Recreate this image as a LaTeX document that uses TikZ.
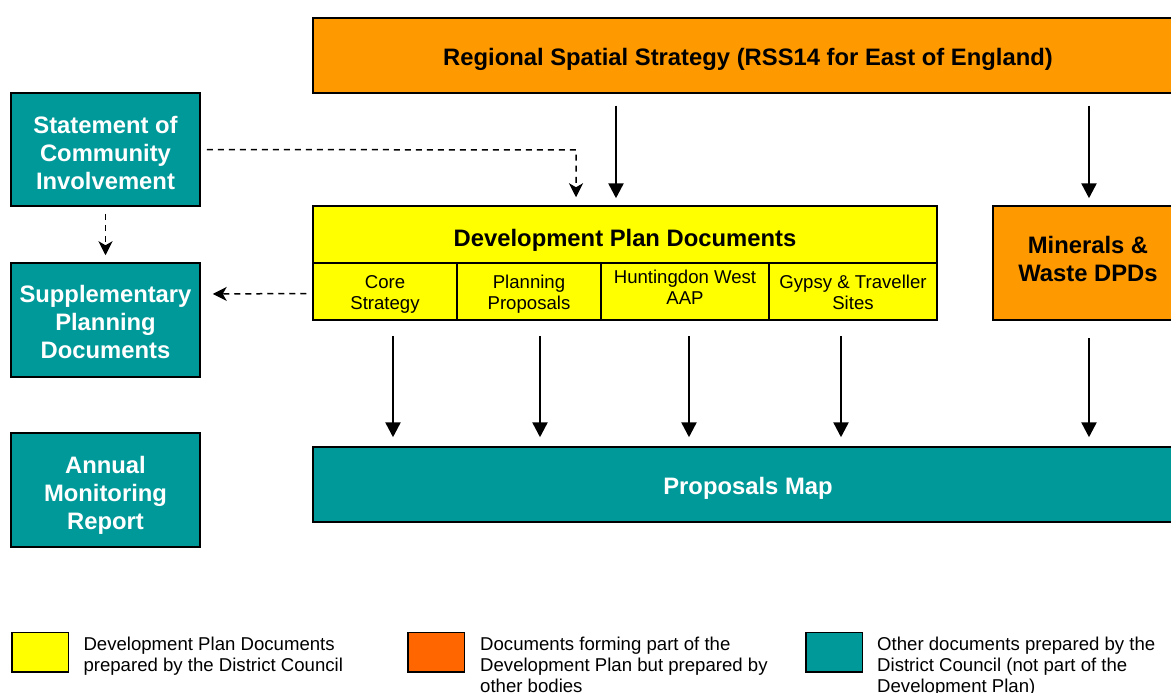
\documentclass[tikz,border=0pt]{standalone}
\usepackage{fontspec}
\setmainfont{Liberation Sans}
\usetikzlibrary{arrows.meta,calc}
\definecolor{cyel}{HTML}{FFFF00}
\definecolor{corg}{HTML}{FF9900}
\definecolor{corl}{HTML}{FF6600}
\definecolor{cteal}{HTML}{009999}
\tikzset{
  box/.style={draw=black, line width=1.5pt, rectangle, inner sep=0pt},
  bigtxt/.style={font=\fontsize{23.8}{27.8}\selectfont\bfseries, align=center, inner sep=0pt, anchor=base},
  smalltxt/.style={font=\fontsize{18.6}{20.7}\selectfont, align=center, inner sep=0pt, anchor=base},
  wtxt/.style={bigtxt, text=white},
  arr/.style={line width=2.5pt, -{Triangle[width=15pt,length=15pt]}},
  darr/.style={line width=1.5pt, dash pattern=on 6pt off 5pt, -{Stealth[width=14pt,length=14pt,inset=4pt]}},
  legsq/.style={draw=black, line width=1.5pt, minimum width=56.5pt, minimum height=39.5pt, inner sep=0pt},
  legtxt/.style={font=\fontsize{18.6}{21}\selectfont, align=left, anchor=base west, inner sep=0pt}
}
\begin{document}
\begin{tikzpicture}[x=1pt,y=-1pt]
\useasboundingbox (0,0) rectangle (1171,693);
\clip (0,0) rectangle (1171,693);
\fill[white] (0,0) rectangle (1171,693);

% top
\node[box, fill=corg, minimum width=870pt, minimum height=75pt] (rss) at (748,55.5) {};
\node[bigtxt] (rsst) at (748,65.7) {Regional Spatial Strategy (RSS14 for East of England)};

% left column
\node[box, fill=cteal, minimum width=189pt, minimum height=113pt] (sci) at (105.5,149.5) {};
\node[wtxt] (scit) at (105.5,189) {Statement of\\Community\\Involvement};
\node[box, fill=cteal, minimum width=189pt, minimum height=114pt] (spd) at (105.5,320) {};
\node[wtxt] (spdt) at (105.5,358.3) {Supplementary\\Planning\\Documents};
\node[box, fill=cteal, minimum width=189pt, minimum height=114pt] (amr) at (105.5,490) {};
\node[wtxt] (amrt) at (105.5,529.3) {Annual\\Monitoring\\Report};

% DPD
\node[box, fill=cyel, minimum width=624pt, minimum height=57pt] (dpd) at (625,234.5) {};
\node[bigtxt] (dpdt) at (625,246) {Development Plan Documents};
\node[box, fill=cyel, minimum width=144pt, minimum height=57pt] (c1) at (385,291.5) {};
\node[smalltxt] (c1t) at (385,309) {Core\\Strategy};
\node[box, fill=cyel, minimum width=144pt, minimum height=57pt] (c2) at (529,291.5) {};
\node[smalltxt] (c2t) at (529,309) {Planning\\Proposals};
\node[box, fill=cyel, minimum width=168pt, minimum height=57pt] (c3) at (685,291.5) {};
\node[smalltxt] (c3t) at (685,304.3) {Huntingdon West\\AAP};
\node[box, fill=cyel, minimum width=168pt, minimum height=57pt] (c4) at (853,291.5) {};
\node[smalltxt] (c4t) at (853,309) {Gypsy \& Traveller\\Sites};

% minerals
\node[box, fill=corg, minimum width=190pt, minimum height=114pt] (mw) at (1088,263) {};
\node[bigtxt] (mwt) at (1088,281.7) {Minerals \&\\Waste DPDs};

% proposals map
\node[box, fill=cteal, minimum width=870pt, minimum height=75pt] (pm) at (748,484.5) {};
\node[wtxt] (pmt) at (748,494.3) {Proposals Map};

% solid arrows
\draw[arr] (rss.south -| 616,0) ++(0,12) -- ($(dpd.north -| 616,0)+(0,-7)$);
\draw[arr] (rss.south -| 1089,0) ++(0,12) -- ($(mw.north -| 1089,0)+(0,-7)$);
\foreach \n/\x in {c1/393,c2/540,c3/689,c4/841}{
  \draw[arr] (\n.south -| \x,0) ++(0,15) -- ($(pm.north -| \x,0)+(0,-9)$);
}
\draw[arr] (mw.south -| 1089,0) ++(0,17) -- ($(pm.north -| 1089,0)+(0,-9)$);

% dashed arrows
\coordinate (bend) at (576,150);
\draw[darr] (sci.east) ++(6,0) -- (bend) -- ($(dpd.north -| bend)+(0,-8)$);
\draw[darr] (sci.south) ++(0,7) -- ($(spd.north)+(0,-7)$);
\draw[darr] (c1.west) ++(-6,2) -- ($(spd.east)+(12,-26)$);

% legend
\node[legsq, fill=cyel] (l1) at (40,652) {};
\node[legsq, fill=corl] (l2) at (436.2,652) {};
\node[legsq, fill=cteal] (l3) at (834,652) {};
\node[legtxt] (t1) at (83.3,671.7) {Development Plan Documents\\prepared by the District Council};
\node[legtxt] (t2) at (480,692.7) {Documents forming part of the\\Development Plan but prepared by\\other bodies};
\node[legtxt] (t3) at (877,692.7) {Other documents prepared by the\\District Council (not part of the\\Development Plan)};
\end{tikzpicture}
\end{document}
